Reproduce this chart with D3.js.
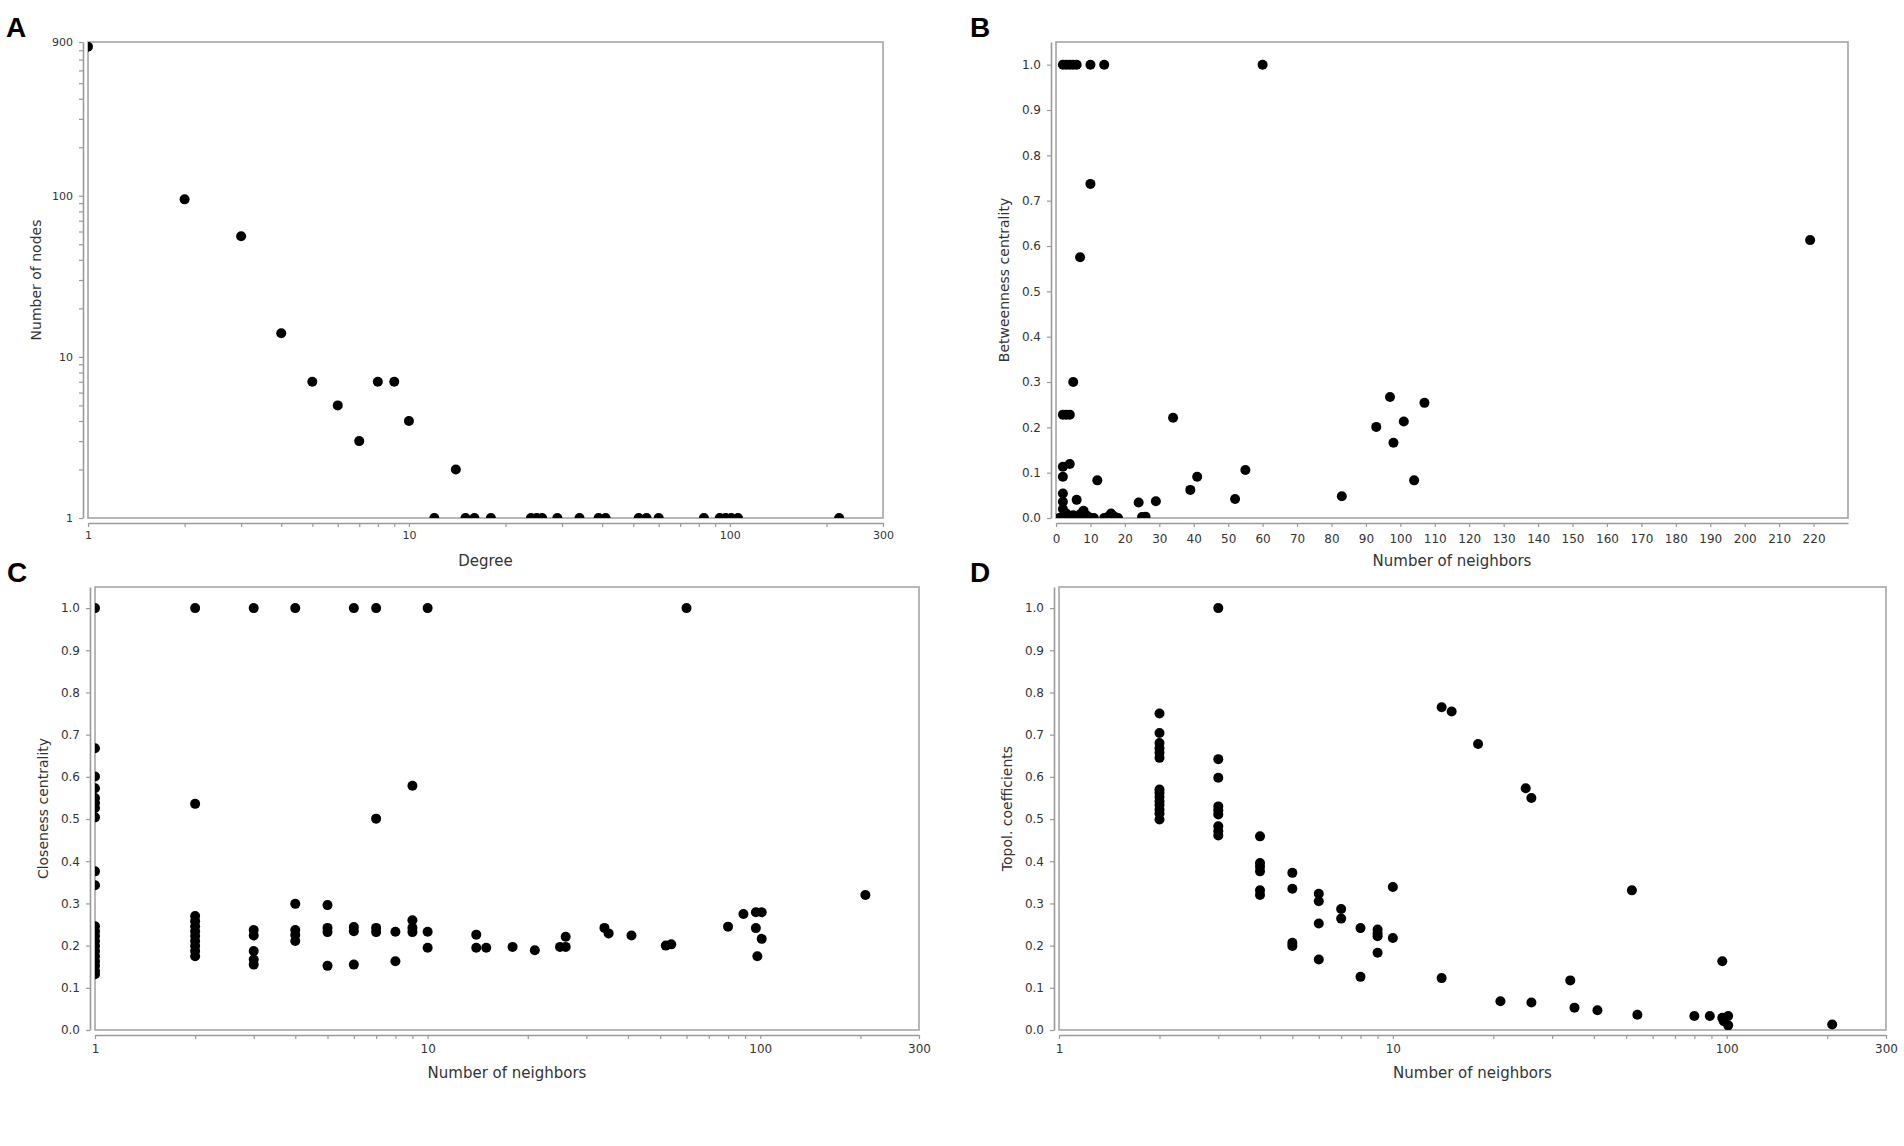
<!DOCTYPE html>
<html>
<head>
<meta charset="utf-8">
<script src="https://cdn.jsdelivr.net/npm/d3@7"></script>
<style>
  html, body { margin: 0; padding: 0; background: #fff; }
  svg { display: block; }
</style>
</head>
<body>
<svg id="fig" width="1904" height="1146"></svg>
<script>
// ------------------------------------------------------------------
// Data
// ------------------------------------------------------------------

// A: degree distribution (log-log)
const degreeA = [1, 2, 3, 4, 5, 6, 7, 8, 9, 10, 12, 14, 15, 16, 18, 24, 25, 26, 29,
  34, 39, 41, 52, 55, 60, 83, 93, 97, 101, 106, 219];
const nodeCountA = [840, 95, 56, 14, 7, 5, 3, 7, 7, 4, 1, 2, 1, 1, 1, 1, 1, 1, 1,
  1, 1, 1, 1, 1, 1, 1, 1, 1, 1, 1, 1];

// B: betweenness centrality vs number of neighbors
const neighborsB = [2, 3, 4, 5, 6, 10, 14, 60, 10, 7, 5, 2, 3, 4, 34, 97, 93, 101, 107,
  98, 104, 83, 55, 52, 41, 39, 29, 24, 26, 25, 12, 6, 4, 2, 2, 2, 2, 219,
  1, 2, 3, 4, 5, 6, 7, 8, 9, 10, 11, 3, 5, 8, 14, 15, 16, 17, 18, 2, 7];
const betweennessB = [1, 1, 1, 1, 1, 1, 1, 1, 0.737, 0.575, 0.30, 0.228, 0.228, 0.228,
  0.221, 0.267, 0.201, 0.213, 0.254, 0.166, 0.083, 0.048, 0.106, 0.042, 0.091, 0.062,
  0.037, 0.034, 0.003, 0.002, 0.083, 0.040, 0.119, 0.113, 0.091, 0.054, 0.036, 0.613,
  0, 0, 0, 0, 0, 0, 0, 0.016, 0.005, 0, 0, 0.01, 0.006, 0.004, 0, 0.002, 0.01, 0.003,
  0, 0.02, 0.008];

// C: closeness centrality vs number of neighbors
const neighborsC = [
  1, 1, 1, 1, 1, 1, 1, 1, 1, 1, 1, 1, 1, 1, 1, 1, 1, 1, 1, 1, 1,
  2, 2, 2, 2, 2, 2, 2, 2, 2, 2, 2,
  3, 3, 3, 3, 3, 3,
  4, 4, 4, 4, 4,
  5, 5, 5, 5,
  6, 6, 6, 6,
  7, 7, 7, 7,
  8, 8,
  9, 9, 9, 9,
  10, 10, 10,
  14, 14, 15, 18, 21, 25, 26, 26, 34, 35, 41, 52, 54, 60, 80, 89,
  97, 97, 98, 101, 101, 207];
const closenessC = [
  1.0, 0.668, 0.601, 0.573, 0.550, 0.538, 0.526, 0.504, 0.376, 0.343, 0.246, 0.234,
  0.223, 0.211, 0.199, 0.187, 0.175, 0.163, 0.152, 0.140, 0.132,
  1.0, 0.536, 0.270, 0.258, 0.246, 0.234, 0.223, 0.211, 0.199, 0.187, 0.175,
  1.0, 0.237, 0.224, 0.187, 0.167, 0.155,
  1.0, 0.299, 0.237, 0.225, 0.211,
  0.296, 0.242, 0.232, 0.152,
  1.0, 0.244, 0.234, 0.155,
  1.0, 0.501, 0.242, 0.232,
  0.233, 0.163,
  0.579, 0.260, 0.242, 0.232,
  1.0, 0.233, 0.195,
  0.226, 0.195, 0.195, 0.197, 0.189, 0.197, 0.197, 0.221, 0.242, 0.229, 0.224, 0.200,
  0.203, 1.0, 0.245, 0.275,
  0.279, 0.2415, 0.175, 0.279, 0.216, 0.320];

// D: topological coefficients vs number of neighbors
const neighborsD = [
  2, 2, 2, 2, 2, 2, 2, 2, 2, 2, 2, 2, 2, 2,
  3, 3, 3, 3, 3, 3, 3, 3, 3,
  4, 4, 4, 4, 4, 4,
  5, 5, 5, 5,
  6, 6, 6, 6,
  7, 7,
  8, 8,
  9, 9, 9, 9,
  10, 10,
  14, 14, 15, 18, 21, 25, 26, 26, 34, 35, 41, 52, 54, 80, 89,
  97, 97, 98, 101, 101, 207];
const topolD = [
  0.750, 0.704, 0.680, 0.668, 0.657, 0.645, 0.570, 0.562, 0.552, 0.542, 0.533, 0.522,
  0.513, 0.499,
  1.0, 0.642, 0.598, 0.530, 0.521, 0.511, 0.483, 0.471, 0.461,
  0.459, 0.396, 0.387, 0.376, 0.331, 0.320,
  0.3725, 0.335, 0.207, 0.199,
  0.323, 0.305, 0.2525, 0.167,
  0.287, 0.264,
  0.2415, 0.126,
  0.238, 0.229, 0.2225, 0.183,
  0.339, 0.218,
  0.765, 0.123, 0.755, 0.678, 0.068, 0.573, 0.550, 0.065, 0.1176, 0.053, 0.047, 0.331,
  0.036, 0.033, 0.033,
  0.029, 0.163, 0.021, 0.033, 0.011, 0.013];

// tick labels
const logLabels = [1, 10, 100, 300];
const countLabels = [1, 10, 100, 900];
const linearTicksB = d3.range(0, 230, 10);
const unitTicks = d3.range(0, 11).map(i => i / 10);

// ------------------------------------------------------------------
// Styling
// ------------------------------------------------------------------
const svg = d3.select("#fig");
const FRAME = "#a6a6a6";
const AXIS = "#9a9a9a";
const INK = "#333";
const FONT = '"DejaVu Sans", sans-serif';
const DOT_R = 5;

// 1,2,..9,10,20,..,90,100,.. up to max
function logTicks(max) {
  const out = [];
  for (let p = 1; p <= max; p *= 10) {
    for (let m = 1; m < 10; m++) if (m * p <= max) out.push(m * p);
  }
  return out;
}

// ------------------------------------------------------------------
// Panel
// ------------------------------------------------------------------
function drawPanel(o) {
  const { box } = o;
  const g = svg.append("g");

  svg.append("clipPath").attr("id", `clip-${o.letter}`)
    .append("rect")
    .attr("x", box.x0).attr("y", box.y0)
    .attr("width", box.x1 - box.x0).attr("height", box.y1 - box.y0);

  // plot frame
  g.append("rect")
    .attr("x", box.x0).attr("y", box.y0)
    .attr("width", box.x1 - box.x0).attr("height", box.y1 - box.y0)
    .attr("fill", "none").attr("stroke", FRAME).attr("stroke-width", 1.6);

  // axes sit a few px outside the frame
  const xAxis = d3.axisBottom(o.x)
    .tickValues(o.xTicks).tickFormat(o.xFormat)
    .tickSize(4).tickSizeOuter(0).tickPadding(o.xPad);
  const yAxis = d3.axisLeft(o.y)
    .tickValues(o.yTicks).tickFormat(o.yFormat)
    .tickSize(4).tickSizeOuter(0).tickPadding(6);

  const gx = g.append("g").attr("transform", `translate(0,${box.y1 + 5})`).call(xAxis);
  const gy = g.append("g").attr("transform", `translate(${box.x0 - 5},0)`).call(yAxis);

  for (const ax of [gx, gy]) {
    ax.select(".domain").attr("stroke", AXIS).attr("stroke-width", 1.6);
    ax.selectAll(".tick line").attr("stroke", AXIS).attr("stroke-width", 1.2);
    ax.selectAll(".tick text")
      .attr("font-family", FONT).attr("font-size", o.tickFont).attr("fill", INK);
  }

  // points
  g.append("g").attr("clip-path", `url(#clip-${o.letter})`)
    .selectAll("circle")
    .data(d3.zip(o.xs, o.ys))
    .join("circle")
    .attr("cx", d => o.x(d[0]))
    .attr("cy", d => o.y(d[1]))
    .attr("r", DOT_R)
    .attr("fill", "#000");

  // axis titles
  g.append("text")
    .attr("x", (box.x0 + box.x1) / 2).attr("y", box.y1 + 48)
    .attr("text-anchor", "middle")
    .attr("font-family", FONT).attr("font-size", 15).attr("fill", INK)
    .text(o.xTitle);

  g.append("text")
    .attr("transform", `translate(${box.x0 - 47},${(box.y0 + box.y1) / 2}) rotate(-90)`)
    .attr("text-anchor", "middle")
    .attr("font-family", FONT).attr("font-size", 14).attr("fill", INK)
    .text(o.yTitle);

  // panel letter
  svg.append("text")
    .attr("x", o.letterX).attr("y", o.letterY)
    .attr("font-family", '"Liberation Sans", Arial, sans-serif')
    .attr("font-weight", "bold").attr("font-size", 28).attr("fill", "#000")
    .text(o.letter);
}

const fmtUnit = d3.format(".1f");
const fmtLog = labels => d => (labels.includes(d) ? String(d) : "");

// A
const boxA = { x0: 88, x1: 883, y0: 42, y1: 518 };
drawPanel({
  letter: "A", letterX: 6, letterY: 37, box: boxA,
  x: d3.scaleLog().domain([1, 300]).range([boxA.x0, boxA.x1]),
  y: d3.scaleLog().domain([1, 900]).range([boxA.y1, boxA.y0]),
  xTicks: logTicks(300), xFormat: fmtLog(logLabels),
  yTicks: logTicks(900), yFormat: fmtLog(countLabels),
  xs: degreeA, ys: nodeCountA,
  xTitle: "Degree", yTitle: "Number of nodes",
  tickFont: 11, xPad: 4,
});

// B
const boxB = { x0: 1056, x1: 1848, y0: 42, y1: 518 };
drawPanel({
  letter: "B", letterX: 970, letterY: 37, box: boxB,
  x: d3.scaleLinear().domain([0, 230]).range([boxB.x0, boxB.x1]),
  y: d3.scaleLinear().domain([0, 1.05]).range([boxB.y1, boxB.y0]),
  xTicks: linearTicksB, xFormat: d => String(d),
  yTicks: unitTicks, yFormat: fmtUnit,
  xs: neighborsB, ys: betweennessB,
  xTitle: "Number of neighbors", yTitle: "Betweenness centrality",
  tickFont: 12, xPad: 7,
});

// C
const boxC = { x0: 95, x1: 919, y0: 587, y1: 1030 };
drawPanel({
  letter: "C", letterX: 7, letterY: 582, box: boxC,
  x: d3.scaleLog().domain([1, 300]).range([boxC.x0, boxC.x1]),
  y: d3.scaleLinear().domain([0, 1.05]).range([boxC.y1, boxC.y0]),
  xTicks: logTicks(300), xFormat: fmtLog(logLabels),
  yTicks: unitTicks, yFormat: fmtUnit,
  xs: neighborsC, ys: closenessC,
  xTitle: "Number of neighbors", yTitle: "Closeness centrality",
  tickFont: 12, xPad: 5,
});

// D
const boxD = { x0: 1059, x1: 1886, y0: 587, y1: 1030 };
drawPanel({
  letter: "D", letterX: 970, letterY: 582, box: boxD,
  x: d3.scaleLog().domain([1, 300]).range([boxD.x0, boxD.x1]),
  y: d3.scaleLinear().domain([0, 1.05]).range([boxD.y1, boxD.y0]),
  xTicks: logTicks(300), xFormat: fmtLog(logLabels),
  yTicks: unitTicks, yFormat: fmtUnit,
  xs: neighborsD, ys: topolD,
  xTitle: "Number of neighbors", yTitle: "Topol. coefficients",
  tickFont: 12, xPad: 5,
});
</script>
</body>
</html>
